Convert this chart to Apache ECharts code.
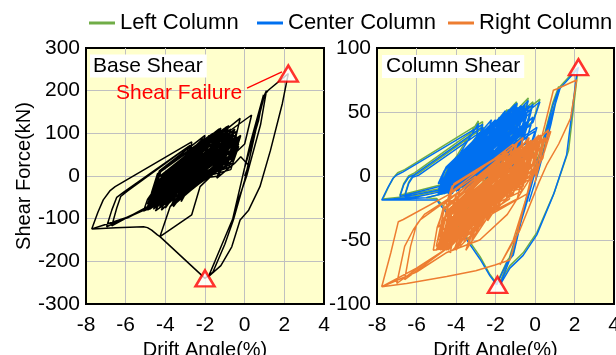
<!DOCTYPE html>
<html>
<head>
<meta charset="utf-8">
<script src="https://cdn.jsdelivr.net/npm/echarts@6/dist/echarts.min.js"></script>
<style>
  html, body { margin: 0; padding: 0; background: #fff; }
  #main { width: 616px; height: 355px; }
</style>
</head>
<body>
<div id="main"></div>
<script>
// 基础剪力 (kN) vs 层间位移角 (%)
var baseShear = [
  [0,0],[0.2,25],[-0.2,45],[-0.5,30],[-1.4,-5],[-1.2,25],[-0.3,75],[-0.6,45],[-2.4,-15],[-2.1,20],[-0.9,80],[-1.2,45],[-3.0,-30],
  [-2.7,10],[-1.2,85],[-1.5,45],[-3.6,-45],[-3.3,-5],[-0.8,100],[-1.1,55],[-4.1,-58],[-3.8,-18],[-1.0,95],[-1.3,50],[-4.4,-66],[-4.1,-25],
  [-0.5,110],[-0.8,62],[-4.6,-70],[-4.3,-30],[-1.5,82],[-1.8,38],[-4.0,-48],[-3.7,-8],[-0.9,116],[-1.2,72],[-4.5,-55],[-4.2,-16],[-0.4,92],[-0.7,40],
  [-4.9,-80],[-4.6,-50],[-0.5,60],[-0.8,20],[-4.7,-40],[-4.4,5],[-1.2,112],[-1.5,70],[-4.6,-78],[-4.3,-55],[-0.3,70],[-0.6,30],
  [-4.8,-70],[-4.5,-30],[-1.1,105],[-1.4,65],[-4.4,-72],[-4.1,-40],[-0.4,85],[-0.7,42],[-3.9,-62],[-3.6,-25],[-1.7,85],[-2.0,48],
  [-4.7,-62],[-4.4,-25],[-1.0,100],[-1.3,58],[-4.0,-68],[-3.7,-38],[-0.9,70],[-1.2,28],[-4.5,-45],[-4.2,-2],[-1.7,92],[-2.0,55],
  [-4.0,-60],[-5.1,-82],[-4.9,-55],[-4.6,-35],[-2.67,60],[-2.1,88],[-2.3,58],
  [-3.2,-10],[-4.7,-70],[-6.96,-119],[-6.7,-80],[-6.45,-50],[-6.1,-38],[-2.84,69],[-2.9,48],
  [-4.5,-30],[-4.2,15],[-1.6,100],[-1.9,60],[-4.0,-75],[-3.7,-50],[-1.0,40],[-1.3,0],[-3.8,-15],[-3.5,25],[-0.8,118],[-1.1,80],
  [-3.8,-52],[-3.5,-12],[-0.4,105],[-0.7,60],[-4.8,-78],[-4.5,-45],[-1.4,65],[-1.7,25],[-4.2,-35],[-3.9,8],[-1.2,108],[-1.5,68],
  [-4.6,-58],[-4.3,-18],[-0.7,110],[-1.0,68],[-4.2,-70],[-3.9,-35],[-1.3,75],[-1.6,35],[-4.7,-50],[-4.4,-12],[-1.5,95],[-1.8,58],
  [-4.3,-45],[-4.0,-8],[-0.6,100],[-0.9,50],[-3.6,-60],[-3.3,-22],[-1.8,95],[-2.0,55],[-4.7,-45],[-4.4,-5],[-1.3,110],[-1.6,70],
  [-4.3,-62],[-4.0,-22],[-0.3,90],[-0.6,45],[-3.7,-70],[-3.4,-35],[-0.8,80],[-1.1,32],[-4.8,-62],[-4.5,-22],[-2.1,88],[-2.3,55],[-4.2,-40],
  [-4.7,-72],[-5.8,-95],[-7.71,-124],[-7.4,-85],[-7.13,-56],[-6.8,-35],[-6.53,-25],[-2.67,80],[-2.72,58],
  [-3.2,-60],[-2.9,-35],[-0.4,60],[-0.7,15],[-4.6,-35],[-4.3,8],[-1.4,105],[-1.7,66],[-4.8,-75],[-4.5,-48],[-1.2,55],[-1.5,15],
  [-3.5,-65],[-3.2,-30],[-0.5,85],[-0.8,40],[-4.5,-82],[-4.2,-55],[-1.8,30],[-2.1,-5],[-4.0,-30],[-3.7,10],[-1.1,100],[-1.4,62],
  [-3.6,-72],[-3.3,-42],[-0.6,72],[-0.9,30],[-4.6,-52],[-4.3,-12],[-2.2,78],[-2.4,45],[-4.3,-75],[-4.0,-44],[-0.8,68],[-1.1,26],
  [-4.4,-50],[-4.1,-10],[-0.23,135],[-0.5,80],[-4.2,-80],[-3.9,-45],[-0.7,85],[-1.0,35],[-3.4,-55],[-3.1,-15],[-0.9,105],[-1.2,60],
  [-4.5,-62],[-6.7,-117],[-6.45,-75],[-6.25,-48],[-5.9,-35],[-2.75,72],[-2.8,52],
  [-4.8,-56],[-4.5,-20],[-0.9,98],[-1.2,55],[-4.3,-68],[-4.0,-32],[-0.2,95],[-0.5,50],[-3.7,-45],[-3.4,-5],[-2.3,70],[-2.5,40],
  [-4.4,-58],[-4.1,-18],[-0.8,108],[-1.1,66],[-3.1,-45],[-2.8,-10],[-0.7,90],[-1.0,48],[-4.7,-68],[-4.4,-36],[-1.9,65],[-2.2,28],
  [-4.6,-65],[-4.3,-25],[-1.4,100],[-1.7,60],[-4.1,-55],[-3.8,-15],[-0.5,95],[-0.8,45],[-2.9,-40],[-2.6,-5],[-0.3,90],[-0.6,45],
  [-4.9,-72],[-4.6,-35],[-2.4,60],[-2.5,40],[-4.3,-62],[-4.0,-20],[-1.3,110],[-1.6,70],[-3.7,-70],[-3.4,-35],[-0.8,80],[-1.1,30],
  [-4.6,-74],[-4.3,-45],[-1.6,55],[-1.9,18],[-4.1,-50],[-3.8,-10],[-0.6,105],[-0.9,62],[-4.9,-66],[-4.6,-28],[-2.6,55],[-2.8,30],
  [-4.6,-30],[-4.3,12],[-2.0,95],[-2.2,62],[-4.5,-76],[-4.2,-52],[-0.6,62],[-0.9,22],[-3.9,-20],[-3.6,20],[-1.0,112],[-1.3,75],
  [-4.1,-42],[-3.8,-2],[-1.4,98],[-1.7,60],[-4.5,-70],[-4.2,-38],[-0.3,80],[-0.6,36],
  [-3.3,-50],[-3.0,-12],[-0.8,95],[-1.1,55],
  [-4.4,-40],[-4.1,0],[-1.9,90],[-2.2,45],[-4.5,-50],[-4.2,-10],[0.35,143],[0.0,75],
  [-2.25,-25],[-2.67,-91],[-4.27,-142],[-3.76,-72],[-3.6,-62],
  [-3.3,-25],[-0.6,100],[-0.9,50],[-4.0,-55],[-3.7,-15],[-1.0,95],[-1.3,50],[-4.3,-60],
  [-5.9,-98],[-7.71,-124],[-6.5,-121],[-5.1,-119],[-4.9,-121],[-4.69,-127],[-4.4,-138],[-4.27,-142],[-2.0,-240],
  [-1.6,-225],[-1.0,-160],[-0.57,-103],[0.0,-10],[0.6,116],[1.0,190],[1.19,201],[2.2,240],
  [1.9,170],[1.3,60],[0.77,-25],[0.2,-80],[-0.23,-103],[-0.65,-166],[-1.2,-210],[-1.83,-236],
  [-1.5,-200],[-0.6,-100],[0.2,60],[0.9,180],[1.1,200],[0.8,120],[0.1,0],[-0.5,-80],[-0.3,-40],[0.3,80],[0.95,190],[0.7,130],[0.0,20]
];

// 左柱 剪力
var leftColumn = [
  [0,0],[0.2,12],[-0.3,24],[-0.6,16],[-1.5,4],[-1.2,17],[-0.5,37],[-0.8,26],[-2.5,-1],[-2.2,12],[-0.9,42],[-1.2,30],[-3.2,-4],
  [-2.9,8],[-1.2,47],[-1.5,33],[-3.7,-7],[-3.4,6],[-0.8,52],[-1.1,38],[-4.1,-9],[-3.8,4],[-0.5,55],[-0.8,41],[-4.6,-12],[-4.3,0],[-0.93,58],[-1.2,43],[-4.5,-7],
  [-4.9,-13],[-4.75,-5],[-4.5,2],[-2.87,43],[-2.95,31],
  [-4.8,-7],[-6.84,-15],[-6.65,-6],[-6.4,0],[-6.1,2.5],[-2.7,40],[-2.78,29],
  [-4.3,-5],[-4.0,7],[-0.6,54],[-0.9,40],[-4.7,-4],[-4.4,7],[-1.3,52],[-1.6,39],[-4.3,-10],[-4.0,2],[-0.34,61],[-0.6,45],
  [-4.7,-11],[-5.9,-15],[-7.7,-18],[-7.4,-8],[-7.15,-1],[-6.95,2.5],[-6.6,5],[-2.65,42.5],[-2.72,31],
  [-4.4,-6],[-4.1,6],[0.25,60],[-0.1,43],[-4.2,-11],[-3.9,1],[-0.9,56],[-1.2,41],
  [-4.5,-9],[-6.6,-15],[-6.4,-5],[-6.2,0],[-5.9,2],[-2.6,38],[-2.68,28],
  [-4.6,-7],[-4.3,4],[-1.4,52],[-1.7,39],[-4.5,-9],[-4.2,3],[-0.1,58],[-0.4,41],
  [-3.0,-20],[-3.8,-30],[-3.5,-20],[-1.5,15],[-1.8,5],[-4.2,-12],[-5.5,-17],[-4.98,-17.5],[-4.72,-22],[-3.63,-44],[-2.78,-63],[-2.28,-77],[-1.94,-84],
  [-1.4,-66],[-1.1,-60],[-0.59,-26],[0.09,11],[0.76,44],[1.27,70],[2.11,84],[2.15,80],[1.7,20],[1.0,-12],[0.1,-44],[-0.6,-60],[-1.27,-70],[-1.77,-83],
  [-1.3,-64],[-0.4,-18],[0.3,22],[0.9,57],[1.2,70],[0.8,42],[0.2,7]
];

// 中柱 剪力
var centerColumn = [
  [0,0],[0.2,10],[-0.3,22],[-0.6,15],[-1.5,3],[-1.2,15],[-0.5,35],[-0.8,25],[-2.5,-2],[-2.2,10],[-0.9,40],[-1.2,28],[-3.2,-5],
  [-2.9,6],[-1.2,45],[-1.5,32],[-3.7,-8],[-3.4,4],[-0.8,50],[-1.1,37],[-4.1,-10],[-3.8,2],[-1.0,48],[-1.3,34],[-4.4,-12],[-4.1,0],
  [-0.5,53],[-0.8,40],[-4.6,-13],[-4.3,-2],[-1.5,42],[-1.8,28],[-4.0,-6],[-3.7,6],[-0.93,56],[-1.2,42],[-4.5,-8],[-4.2,3],[-0.4,48],[-0.7,32],
  [-4.8,-5],[-4.5,6],[-1.0,55],[-1.3,42],[-4.9,-15],[-4.6,-8],[-0.2,40],[-0.5,25],[-4.5,-2],[-4.2,8],[-1.6,48],[-1.9,36],
  [-4.6,-10],[-4.3,0],[-1.1,50],[-1.4,37],[-4.3,-4],[-4.0,7],[-0.7,55],[-1.0,41],[-4.8,-12],[-4.5,-3],[-1.8,40],[-2.1,28],
  [-4.5,-6],[-4.2,5],[-1.2,51],[-1.5,38],[-4.0,-12],[-3.7,-4],[-0.4,40],[-0.7,24],[-4.7,-11],[-4.4,-2],[-1.5,44],[-1.8,31],
  [-4.2,-12],[-4.9,-14],[-4.75,-6],[-4.5,0],[-2.87,41],[-2.95,30],
  [-3.5,12],[-4.8,-8],[-6.84,-16],[-6.65,-7],[-6.4,-1],[-6.1,1],[-2.7,38],[-2.78,28],
  [-4.4,-14],[-4.1,-6],[0.0,35],[-0.3,20],[-4.0,-1],[-3.7,10],[-1.2,53],[-1.5,40],[-3.5,-10],[-3.2,-3],[-0.5,38],[-0.8,22],
  [-3.9,-9],[-3.6,1],[-0.2,50],[-0.5,34],[-4.5,-13],[-4.2,-4],[-0.9,42],[-1.2,27],[-4.1,-3],[-3.8,8],[-1.6,47],[-1.9,36],
  [-3.8,-4],[-3.5,7],[-0.6,54],[-0.9,40],[-4.3,-13],[-4.0,-5],[-0.9,38],[-1.2,23],[-4.8,-3],[-4.5,7],[-2.0,44],[-2.2,34],
  [-4.3,-6],[-4.0,5],[-0.6,52],[-0.9,38],[-3.6,-8],[-3.3,3],[-1.8,46],[-2.0,35],[-4.7,-5],[-4.4,5],[-1.3,50],[-1.6,38],
  [-4.3,-11],[-4.0,0],[-0.34,59],[-0.6,44],[-3.7,-9],[-3.4,2],[-0.8,45],[-1.1,30],[-4.8,-9],[-4.5,2],[-2.1,42],[-2.3,32],[-4.2,-4],
  [-4.7,-12],[-5.9,-16],[-7.76,-18.75],[-7.45,-9],[-7.2,-2],[-7.0,0.8],[-6.7,3],[-2.65,40.4],[-2.72,30],
  [-4.6,-12],[-4.3,-4],[-0.4,42],[-0.7,26],[-4.4,0],[-4.1,10],[-2.2,44],[-2.4,34],[-3.9,-12],[-3.6,-4],[-0.1,46],[-0.4,30],
  [-4.7,-8],[-4.4,3],[-0.5,56],[-0.8,42],[-3.6,-12],[-3.3,-4],[-0.3,44],[-0.6,28],[-4.4,-9],[-4.1,2],[-1.4,45],[-1.7,32],
  [-4.1,-8],[-3.8,2],[-0.2,52],[-0.5,36],[-4.6,-14],[-4.3,-6],[-1.2,36],[-1.5,22],[-3.3,-8],[-3.0,3],[-0.5,47],[-0.8,31],
  [-4.4,-7],[-4.1,4],[0.25,58],[-0.1,42],[-4.2,-12],[-3.9,-1],[-0.7,47],[-1.0,33],[-3.4,-6],[-3.1,5],[-0.9,54],[-1.2,40],
  [-4.5,-10],[-6.6,-16],[-6.4,-6],[-6.2,-1],[-5.9,0.5],[-2.6,36],[-2.68,27],
  [-4.6,-8],[-4.3,2],[-1.4,50],[-1.7,38],[-4.1,-8],[-3.8,3],[-0.5,52],[-0.8,38],[-2.9,-3],[-2.6,8],[-0.3,55],[-0.6,40],
  [-4.9,-11],[-4.6,-1],[-2.4,35],[-2.5,26],[-4.3,-8],[-4.0,4],[-1.3,52],[-1.6,39],[-3.7,-7],[-3.4,4],[-0.8,46],[-1.1,32],
  [-4.7,-14],[-4.4,-6],[-0.6,34],[-0.9,18],[-3.8,0],[-3.5,11],[-1.5,51],[-1.8,40],[-4.3,-13],[-4.0,-5],[0.1,38],[-0.2,22],
  [-4.9,-6],[-4.6,4],[-2.4,38],[-2.6,28],[-4.2,-14],[-3.9,-6],[-0.8,36],[-1.1,21],[-4.6,-3],[-4.3,8],[-0.9,57],[-1.2,44],
  [-4.4,-2],[-4.1,8],[-1.0,56],[-1.3,43],
  [-4.4,-4],[-4.1,6],[-1.9,44],[-2.2,32],[-4.5,-10],[-4.2,1],[-0.1,56],[-0.4,40],
  [-4.2,-12],[-5.5,-17],[-7.7,-18.5],[-6.0,-18.75],[-4.98,-18.75],[-4.72,-24],[-3.63,-46],[-2.78,-65],[-2.28,-78],[-1.94,-85],
  [-1.43,-68],[-1.1,-61.7],[-0.59,-28],[0.09,8.6],[0.76,42.4],[1.27,68.5],[2.11,82.8],[2.2,85],
  [2.1,78],[1.6,16.4],[0.93,-14.8],[0.09,-46],[-0.6,-62],[-1.27,-72],[-1.77,-85],
  [-1.3,-66],[-0.4,-20],[0.3,20],[0.9,55],[1.2,68],[0.8,40],[0.2,5],[-0.3,-20]
];

// 右柱 剪力
var rightColumn = [
  [0,-5],[0.2,8],[-0.2,18],[-0.5,8],[-1.5,-20],[-1.2,-5],[-0.4,20],[-0.7,5],[-2.4,-35],[-2.1,-15],[-0.8,22],[-1.1,5],[-3.1,-42],
  [-2.8,-22],[-0.6,25],[-0.9,5],[-3.7,-48],[-3.4,-28],[-0.3,30],[-0.6,8],[-4.2,-52],[-3.9,-30],[0.2,32],[-0.1,10],[-4.5,-55],[-4.2,-33],
  [-1.2,15],[-1.5,-8],[-4.0,-45],[-3.7,-25],[0.0,28],[-0.3,5],[-4.6,-50],[-4.3,-28],[-0.5,20],[-0.8,-2],
  [-5.0,-58],[-4.7,-45],[-0.4,10],[-0.7,-10],[-4.5,-22],[-4.2,-8],[-1.5,18],[-1.8,5],[-4.8,-56],[-4.5,-42],[-1.0,0],[-1.3,-18],
  [-4.7,-50],[-4.4,-32],[-0.9,15],[-1.2,-5],[-4.2,-45],[-3.9,-26],[0.1,25],[-0.2,4],[-4.9,-57],[-4.6,-44],[-1.6,0],[-1.9,-16],
  [-4.4,-48],[-4.1,-30],[-0.2,22],[-0.5,2],[-4.8,-58],[-4.5,-46],[-1.2,-4],[-1.5,-20],[-3.9,-44],[-3.6,-26],[0.3,30],[0.0,10],
  [-4.4,-56],[-5.15,-58],[-4.95,-40],[-4.6,-25],[-2.0,10],[-1.5,20],[-1.8,0],
  [-3.0,-30],[-4.3,-55],[-5.6,-68],[-7.0,-84],[-6.6,-55],[-6.16,-42],[-5.8,-34],[-3.96,-13.5],[-2.5,5],[-2.7,-10],
  [-3.6,-52],[-3.3,-38],[0.0,18],[-0.3,-3],[-4.3,-30],[-4.0,-15],[-0.6,30],[-0.9,12],[-3.2,-50],[-2.9,-35],[-0.2,15],[-0.5,-5],
  [-4.6,-35],[-4.3,-18],[-1.0,24],[-1.3,6],[-4.0,-58],[-3.7,-44],[-0.4,6],[-0.7,-12],[-4.7,-42],[-4.4,-24],[-1.6,14],[-1.9,-3],
  [-3.9,-56],[-3.6,-42],[-0.5,14],[-0.8,-6],[-4.4,-40],[-4.1,-22],[-0.7,24],[-1.0,6],[-4.6,-54],[-4.3,-38],[-1.3,8],[-1.6,-10],
  [-4.3,-48],[-4.0,-28],[-0.4,28],[-0.7,6],[-3.6,-50],[-3.3,-30],[-1.0,22],[-1.3,0],[-4.8,-52],[-4.5,-30],[-1.5,18],[-1.8,-5],
  [-4.4,-58],[-4.1,-36],[0.5,30],[0.2,8],[-3.8,-55],[-3.5,-35],[-0.7,18],[-1.0,-4],[-4.9,-48],[-4.6,-26],[-2.2,5],[-2.4,-12],
  [-4.3,-55],[-6.0,-72],[-7.76,-86.5],[-7.3,-60],[-6.92,-35.7],[-6.67,-34],[-4.3,-14],[-3.0,0],[-3.2,-15],
  [-4.9,-40],[-4.6,-22],[-2.5,5],[-2.7,-10],[-4.7,-57],[-4.4,-44],[-0.8,5],[-1.1,-14],[-4.1,-26],[-3.8,-12],[-0.9,26],[-1.2,10],
  [-3.6,-47],[-3.3,-30],[-0.1,20],[-0.4,0],[-4.3,-55],[-4.0,-40],[-0.9,10],[-1.2,-8],[-4.9,-50],[-4.6,-33],[-2.4,-2],[-2.6,-16],
  [-3.7,-35],[-3.4,-18],[0.2,27],[-0.1,8],[-4.8,-46],[-4.5,-28],[-2.0,8],[-2.2,-8],[-4.1,-58],[-3.8,-45],[-0.1,5],[-0.4,-14],
  [-4.5,-50],[-4.2,-28],[0.3,32],[0.0,10],[-4.3,-60],[-4.0,-40],[-0.8,20],[-1.1,-2],[-3.5,-45],[-3.2,-25],[-0.6,25],[-0.9,3],
  [-4.4,-56],[-6.6,-81],[-6.3,-55],[-6.0,-38],[-5.6,-30],[-3.8,-12],[-2.2,8],[-2.4,-8],
  [-4.5,-28],[-4.2,-12],[-1.1,25],[-1.4,8],[-3.3,-46],[-3.0,-30],[0.4,28],[0.1,8],[-4.7,-58],[-4.4,-46],[-1.9,-8],[-2.2,-24],
  [-3.8,-30],[-3.5,-13],[0.1,30],[-0.2,12],[-4.5,-58],[-4.2,-45],[-1.5,-6],[-1.8,-22],[-4.2,-40],[-3.9,-22],[-0.5,22],[-0.8,2],
  [-4.7,-52],[-4.4,-30],[-1.4,18],[-1.7,-4],[-4.2,-50],[-3.9,-30],[-0.2,28],[-0.5,6],[-3.0,-42],[-2.7,-22],[-0.1,26],[-0.4,4],
  [-5.0,-55],[-4.7,-34],[-2.3,3],[-2.5,-14],[-4.3,-52],[-4.0,-32],[-1.2,20],[-1.5,-2],[-3.8,-50],[-3.5,-30],[-0.6,22],[-0.9,0],
  [-4.2,-54],[-3.9,-42],[-0.3,12],[-0.6,-8],[-4.4,-20],[-4.1,-6],[-1.8,16],[-2.0,2],[-3.4,-54],[-3.1,-40],[0.3,22],[0.0,2],
  [-4.0,-38],[-3.7,-20],[-0.3,26],[-0.6,6],[-4.6,-45],[-4.3,-26],[-0.8,18],[-1.1,-2],[-3.5,-58],[-3.2,-44],[-0.6,2],[-0.9,-18],
  [-4.5,-46],[-4.2,-25],[-1.8,12],[-2.0,-8],[-4.6,-57],[-4.3,-36],[0.68,36],[0.4,14],
  [-1.4,-30],[-2.8,-50],[-4.5,-60],[-6.0,-75],[-7.76,-86.5],[-6.5,-84],[-4.47,-78.6],[-3.0,-74],[-2.03,-69.5],
  [-1.27,-65.6],[-0.9,-45],[-0.5,-20],[0.0,10],[0.5,40],[0.93,67],[1.1,68],[2.11,75],[2.2,75.3],
  [1.8,45],[1.2,25],[0.59,8.6],[0.2,-5],[-0.76,-42],[-1.5,-62],[-1.77,-69.5],
  [-1.1,-50],[-0.3,-10],[0.4,25],[0.8,35],[0.5,20],[0.0,0]
];

// 剪切破坏点
var baseFailure = [[2.2, 240], [-2.0, -240]];
var columnFailure = [[2.2, 85], [-1.9, -85]];

// 坐标范围
var driftRange = [-8, 4];
var baseRange = [-300, 300];
var columnRange = [-100, 100];

var FONT = '"Liberation Sans", Arial, sans-serif';
var myChart = echarts.init(document.getElementById('main'));

function frameLine() {
    return { show: true, onZero: false, lineStyle: { color: '#000', width: 2 } };
}
function gridLine() {
    return { show: true, showMinLine: false, showMaxLine: false, lineStyle: { color: '#c0c0c0', width: 1, type: 'solid' } };
}

function xAxisOf(idx, name) {
    return {
        gridIndex: idx, type: 'value', min: driftRange[0], max: driftRange[1], interval: 2,
        name: name, nameLocation: 'middle', nameGap: 31,
        nameTextStyle: { fontSize: 20, color: '#000', fontFamily: FONT },
        axisLine: frameLine(), axisTick: { show: false },
        axisLabel: { fontSize: 21, color: '#000', fontFamily: FONT, margin: 11 },
        splitLine: gridLine()
    };
}
function yAxisOf(idx, range, step, name) {
    return {
        gridIndex: idx, type: 'value', min: range[0], max: range[1], interval: step,
        name: name, nameLocation: 'middle', nameGap: 52,
        nameTextStyle: { fontSize: 20, color: '#000', fontFamily: FONT },
        axisLine: frameLine(), axisTick: { show: false },
        axisLabel: { fontSize: 21, color: '#000', fontFamily: FONT, margin: 6 },
        splitLine: gridLine()
    };
}
function legendOf(left, name) {
    return {
        left: left, top: 12, padding: 0, data: [name],
        icon: 'rect', itemWidth: 26, itemHeight: 3, itemGap: 5,
        textStyle: { fontSize: 22, color: '#000', fontFamily: FONT }
    };
}
// 黄色底 + 黑色外框, 压在网格线下面
function backArea(yRange) {
    return {
        silent: true, z: -1, label: { show: false },
        itemStyle: { color: '#FFFFCC', opacity: 1, borderColor: '#000', borderWidth: 2 },
        data: [[{ xAxis: driftRange[0], yAxis: yRange[0] }, { xAxis: driftRange[1], yAxis: yRange[1] }]]
    };
}

myChart.setOption({
    animation: false,
    backgroundColor: '#fff',
    title: [
        { text: 'Base Shear', left: 90, top: 55, padding: [1, 4, 1, 3], backgroundColor: '#fff',
          textStyle: { fontSize: 21, fontWeight: 'normal', color: '#000', fontFamily: FONT, lineHeight: 20 } },
        { text: 'Shear Failure', left: 116, top: 82, padding: 0,
          textStyle: { fontSize: 21, fontWeight: 'normal', color: '#ff0000', fontFamily: FONT, lineHeight: 22 } },
        { text: 'Column Shear', left: 382, top: 55, padding: [1, 4, 1, 4], backgroundColor: '#fff',
          textStyle: { fontSize: 21, fontWeight: 'normal', color: '#000', fontFamily: FONT, lineHeight: 21 } }
    ],
    legend: [
        legendOf(89, 'Left Column'),
        legendOf(257, 'Center Column'),
        legendOf(448, 'Right Column')
    ],
    grid: [
        { left: 86, top: 48, width: 238, height: 256, outerBoundsMode: 'none', containLabel: false },
        { left: 377, top: 48, width: 237, height: 256, outerBoundsMode: 'none', containLabel: false }
    ],
    xAxis: [xAxisOf(0, 'Drift Angle(%)'), xAxisOf(1, 'Drift Angle(%)')],
    yAxis: [yAxisOf(0, baseRange, 100, 'Shear Force(kN)'), yAxisOf(1, columnRange, 50, '')],
    series: [
        {
            name: 'Base Shear', type: 'line', xAxisIndex: 0, yAxisIndex: 0,
            data: baseShear, showSymbol: false, silent: true, z: 3,
            lineStyle: { color: '#000', width: 1.5 }, itemStyle: { color: '#000' },
            markArea: backArea(baseRange),
            markLine: {
                silent: true, symbol: ['none', 'none'], label: { show: false },
                lineStyle: { color: '#ff0000', width: 1.2, type: 'solid' },
                data: [[{ coord: [0.12, 206] }, { coord: [1.88, 244] }]]
            }
        },
        {
            name: 'Left Column', type: 'line', xAxisIndex: 1, yAxisIndex: 1,
            data: leftColumn, showSymbol: false, silent: true, z: 3,
            lineStyle: { color: '#70AD47', width: 1.5 }, itemStyle: { color: '#70AD47' },
            markArea: backArea(columnRange)
        },
        {
            name: 'Center Column', type: 'line', xAxisIndex: 1, yAxisIndex: 1,
            data: centerColumn, showSymbol: false, silent: true, z: 3,
            lineStyle: { color: '#0070F0', width: 1.5 }, itemStyle: { color: '#0070F0' }
        },
        {
            name: 'Right Column', type: 'line', xAxisIndex: 1, yAxisIndex: 1,
            data: rightColumn, showSymbol: false, silent: true, z: 3,
            lineStyle: { color: '#ED7D31', width: 1.5 }, itemStyle: { color: '#ED7D31' }
        },
        {
            name: 'failure0', type: 'scatter', xAxisIndex: 0, yAxisIndex: 0, data: baseFailure,
            symbol: 'triangle', symbolSize: [19, 16], silent: true, z: 6,
            itemStyle: { color: '#fff', borderColor: '#ff0000', borderWidth: 2.5 }
        },
        {
            name: 'failure1', type: 'scatter', xAxisIndex: 1, yAxisIndex: 1, data: columnFailure,
            symbol: 'triangle', symbolSize: [19, 16], silent: true, z: 6,
            itemStyle: { color: '#fff', borderColor: '#ff0000', borderWidth: 2.5 }
        }
    ]
});
</script>
</body>
</html>
